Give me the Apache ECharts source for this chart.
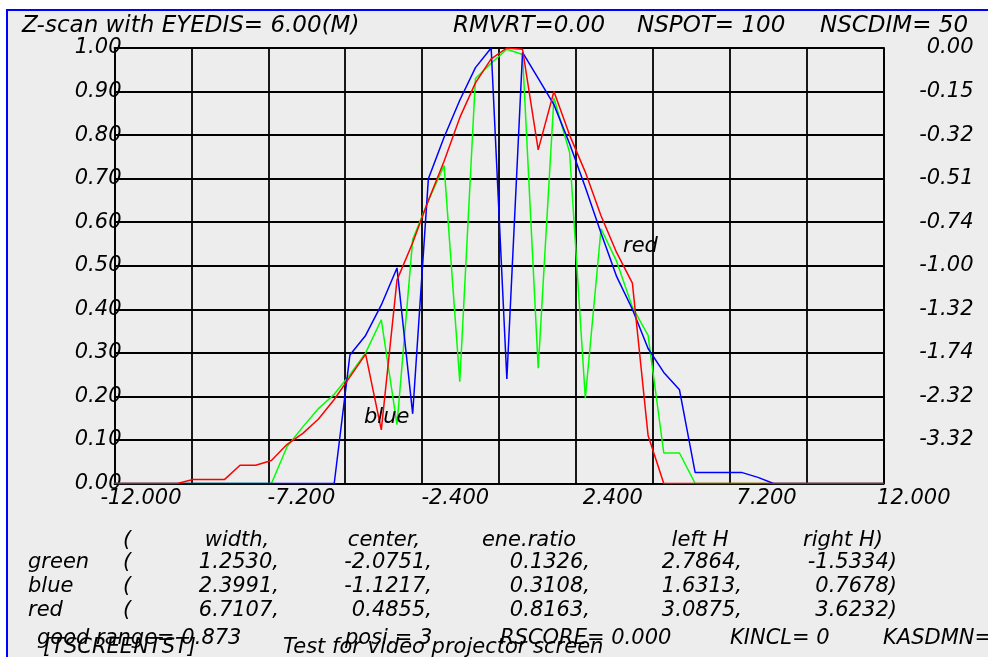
<!DOCTYPE html>
<html>
<head>
<meta charset="utf-8">
<script src="https://cdn.jsdelivr.net/npm/echarts@6/dist/echarts.min.js"></script>
<style>
html,body{margin:0;padding:0;background:#fff;}
#chart{width:988px;height:657px;}
</style>
</head>
<body>
<div id="chart"></div>
<script>
// sample positions (NSCDIM = 50 points from -12 to 12)
const xPositions = [-12.000,-11.510,-11.020,-10.531,-10.041,-9.551,-9.061,-8.571,-8.082,-7.592,
  -7.102,-6.612,-6.122,-5.633,-5.143,-4.653,-4.163,-3.673,-3.184,-2.694,
  -2.204,-1.714,-1.224,-0.735,-0.245,0.245,0.735,1.224,1.714,2.204,
  2.694,3.184,3.673,4.163,4.653,5.143,5.633,6.122,6.612,7.102,
  7.592,8.082,8.571,9.061,9.551,10.041,10.531,11.020,11.510,12.000];

const greenValues = [0,0,0,0,0,0,0,0,0,0,
  0,0.085,0.13,0.172,0.205,0.25,0.30,0.376,0.135,0.56,
  0.65,0.73,0.234,0.93,0.965,0.997,0.985,0.265,0.885,0.76,
  0.196,0.585,0.51,0.405,0.34,0.07,0.07,0,0,0,
  0,0,0,0,0,0,0,0,0,0];

const blueValues = [0,0,0,0,0,0,0,0,0,0,
  0,0,0,0,0,0.295,0.34,0.41,0.495,0.16,
  0.70,0.795,0.88,0.955,1.0,0.24,0.99,0.93,0.87,0.78,
  0.68,0.575,0.475,0.40,0.31,0.255,0.215,0.025,0.025,0.025,
  0.025,0.014,0,0,0,0,0,0,0,0];

const redValues = [0,0,0,0,0,0.009,0.009,0.009,0.042,0.042,
  0.053,0.09,0.115,0.148,0.193,0.245,0.297,0.123,0.467,0.553,
  0.65,0.74,0.84,0.92,0.975,1.0,0.997,0.766,0.90,0.80,
  0.715,0.615,0.53,0.46,0.11,0,0,0,0,0,
  0,0,0,0,0,0,0,0,0,0];

const xTickLabels = ['-12.000','-7.200','-2.400','2.400','7.200','12.000'];
const leftTickLabels = ['0.00','0.10','0.20','0.30','0.40','0.50','0.60','0.70','0.80','0.90','1.00'];
const rightTickLabels = ['','-3.32','-2.32','-1.74','-1.32','-1.00','-0.74','-0.51','-0.32','-0.15','0.00'];

const titleParts = ['Z-scan with EYEDIS= 6.00(M)','RMVRT=0.00','NSPOT= 100','NSCDIM= 50'];
const tableHeader = ['(','width,','center,','ene.ratio','left H','right H)'];
const rowNames = ['green','blue','red'];
const widthVals = ['1.2530','2.3991','6.7107'];
const centerVals = ['-2.0751','-1.1217','0.4855'];
const eneRatioVals = ['0.1326','0.3108','0.8163'];
const leftHVals = ['2.7864','1.6313','3.0875'];
const rightHVals = ['-1.5334','0.7678','3.6232'];
const footerParts = ['good range= 0.873','posi.= 3','RSCORE= 0.000','KINCL= 0','KASDMN='];
const footer2Parts = ['[TSCREENTST]','Test for video projector screen'];
const curveNames = ['blue','red'];

const FONT_FAMILY = "'DejaVu Sans'";
const font = (s) => 'italic ' + s + 'px ' + FONT_FAMILY;

function txt(text, x, y, align, size) {
  return {
    type: 'text', x: x, y: y, z: 100,
    style: {
      text: text, font: font(size || 21), fill: '#000',
      textAlign: align || 'left', align: align || 'left',
      textVerticalAlign: 'middle', verticalAlign: 'middle'
    }
  };
}

const elements = [];
// window background with blue frame
elements.push({
  type: 'rect', z: -100, silent: true,
  shape: { x: 7, y: 10, width: 1000, height: 700 },
  style: { fill: '#ededed', stroke: '#0000ff', lineWidth: 2 }
});
// title
const titleX = [22, 453, 637, 820];
titleParts.forEach((t, i) => elements.push(txt(t, titleX[i], 26, 'left', 23)));
// curve annotations
elements.push(txt(curveNames[0], 364, 418, 'left', 21));
elements.push(txt(curveNames[1], 623, 247, 'left', 21));
// table header
const headX = [123, 237, 384, 529, 700, 843];
tableHeader.forEach((t, i) => elements.push(txt(t, headX[i], 541, i === 0 ? 'left' : 'center', 21)));
// table rows
const rowY = [563, 587, 611];
rowNames.forEach((n, r) => {
  const y = rowY[r];
  elements.push(txt(n, 28, y, 'left', 21));
  elements.push(txt('(', 123, y, 'left', 21));
  elements.push(txt(widthVals[r] + ',', 279, y, 'right', 21));
  elements.push(txt(centerVals[r] + ',', 432, y, 'right', 21));
  elements.push(txt(eneRatioVals[r] + ',', 590, y, 'right', 21));
  elements.push(txt(leftHVals[r] + ',', 742, y, 'right', 21));
  elements.push(txt(rightHVals[r] + ')', 897, y, 'right', 21));
});
// footer
const footX = [37, 345, 500, 730, 883];
footerParts.forEach((t, i) => elements.push(txt(t, footX[i], 639, 'left', 21)));
const foot2X = [43, 283];
footer2Parts.forEach((t, i) => elements.push(txt(t, foot2X[i], 648, 'left', 21)));

const axisLabelBase = { fontFamily: FONT_FAMILY, fontStyle: 'italic', fontSize: 21, color: '#000' };
const gridLine = { color: '#000', width: 1.8 };

const chart = echarts.init(document.getElementById('chart'), null, { renderer: 'canvas' });
chart.setOption({
  animation: false,
  backgroundColor: '#ffffff',
  grid: { left: 114.5, top: 48, width: 769, height: 435.5, containLabel: false },
  xAxis: [
    {
      type: 'value', position: 'bottom', min: -12, max: 12, interval: 4.8,
      axisLine: { show: true, onZero: false, lineStyle: gridLine },
      axisTick: { show: false }, splitLine: { show: false },
      axisLabel: Object.assign({}, axisLabelBase, {
        show: true, margin: 5, align: 'right', padding: [0, -67, 0, 0],
        showMinLabel: true, showMaxLabel: true,
        formatter: v => xTickLabels[Math.round((v + 12) / 4.8)] || ''
      })
    },
    {
      type: 'value', position: 'top', min: -12, max: 12, interval: 2.4,
      axisLine: { show: true, onZero: false, lineStyle: gridLine },
      axisTick: { show: false }, axisLabel: { show: false },
      splitLine: { show: true, lineStyle: gridLine }
    }
  ],
  yAxis: [
    {
      type: 'value', position: 'left', min: 0, max: 1, interval: 0.1,
      axisLine: { show: true, onZero: false, lineStyle: gridLine },
      axisTick: { show: false },
      splitLine: { show: true, lineStyle: gridLine },
      axisLabel: Object.assign({}, axisLabelBase, {
        show: true, margin: -7, align: 'right', padding: [0, 0, 4, 0],
        showMinLabel: true, showMaxLabel: true,
        formatter: v => leftTickLabels[Math.round(v * 10)]
      })
    },
    {
      type: 'value', position: 'right', min: 0, max: 1, interval: 0.1,
      axisLine: { show: true, onZero: false, lineStyle: gridLine },
      axisTick: { show: false }, splitLine: { show: false },
      axisLabel: Object.assign({}, axisLabelBase, {
        show: true, margin: 90, align: 'right', padding: [0, 0, 4, 0],
        showMinLabel: true, showMaxLabel: true,
        formatter: v => rightTickLabels[Math.round(v * 10)]
      })
    }
  ],
  series: [
    { name: 'green', type: 'line', xAxisIndex: 0, yAxisIndex: 0, showSymbol: false, symbol: 'none',
      lineStyle: { color: '#00ff00', width: 1.5 }, itemStyle: { color: '#00ff00' },
      data: xPositions.map((x, i) => [x, greenValues[i]]) },
    { name: 'blue', type: 'line', xAxisIndex: 0, yAxisIndex: 0, showSymbol: false, symbol: 'none',
      lineStyle: { color: '#0000ff', width: 1.5 }, itemStyle: { color: '#0000ff' },
      data: xPositions.map((x, i) => [x, blueValues[i]]) },
    { name: 'red', type: 'line', xAxisIndex: 0, yAxisIndex: 0, showSymbol: false, symbol: 'none',
      lineStyle: { color: '#ff0000', width: 1.5 }, itemStyle: { color: '#ff0000' },
      data: xPositions.map((x, i) => [x, redValues[i]]) }
  ],
  graphic: { elements: elements }
});
</script>
</body>
</html>
